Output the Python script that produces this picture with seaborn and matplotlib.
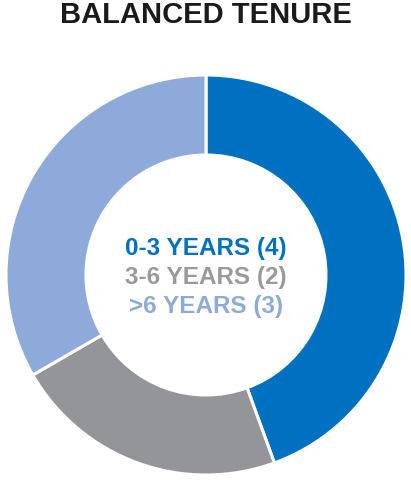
import matplotlib
matplotlib.use("Agg")
import matplotlib.pyplot as plt
import seaborn as sns

# data
labels = ["0-3 YEARS", "3-6 YEARS", ">6 YEARS"]
counts = [4, 2, 3]
colors = ["#0070C0", "#939598", "#8EAADB"]
text_colors = ["#0070C0", "#9A9A9C", "#8EAADB"]
title = "BALANCED TENURE"

sns.set_theme(style="white")
plt.rcParams["font.family"] = ["Liberation Sans", "DejaVu Sans"]

W, H = 411, 483
fig = plt.figure(figsize=(W / 100, H / 100), dpi=100)
fig.patch.set_facecolor("white")

# donut centre ~ (206, 275) px, radius ~200 px
cx, cy, r = 206, 275, 200
ax = fig.add_axes([(cx - r) / W, (H - cy - r) / H, 2 * r / W, 2 * r / H])
ax.pie(counts, colors=colors, startangle=90, counterclock=False, radius=1,
       wedgeprops=dict(width=0.4, edgecolor="white", linewidth=2.2))
ax.set_xlim(-1, 1)
ax.set_ylim(-1, 1)
ax.axis("off")

# centre legend text
for i, (lab, n, c) in enumerate(zip(labels, counts, text_colors)):
    y_px = 248 + i * 29.5
    fig.text(cx / W, 1 - y_px / H, f"{lab} ({n})", ha="center", va="center",
             fontsize=17.5, fontweight="bold", color=c)

fig.text(0.5, 1 - 15 / H, title, ha="center", va="center",
         fontsize=21, fontweight="bold", color="#1A1A1A")

fig.savefig("out.png", dpi=100, facecolor="white")
